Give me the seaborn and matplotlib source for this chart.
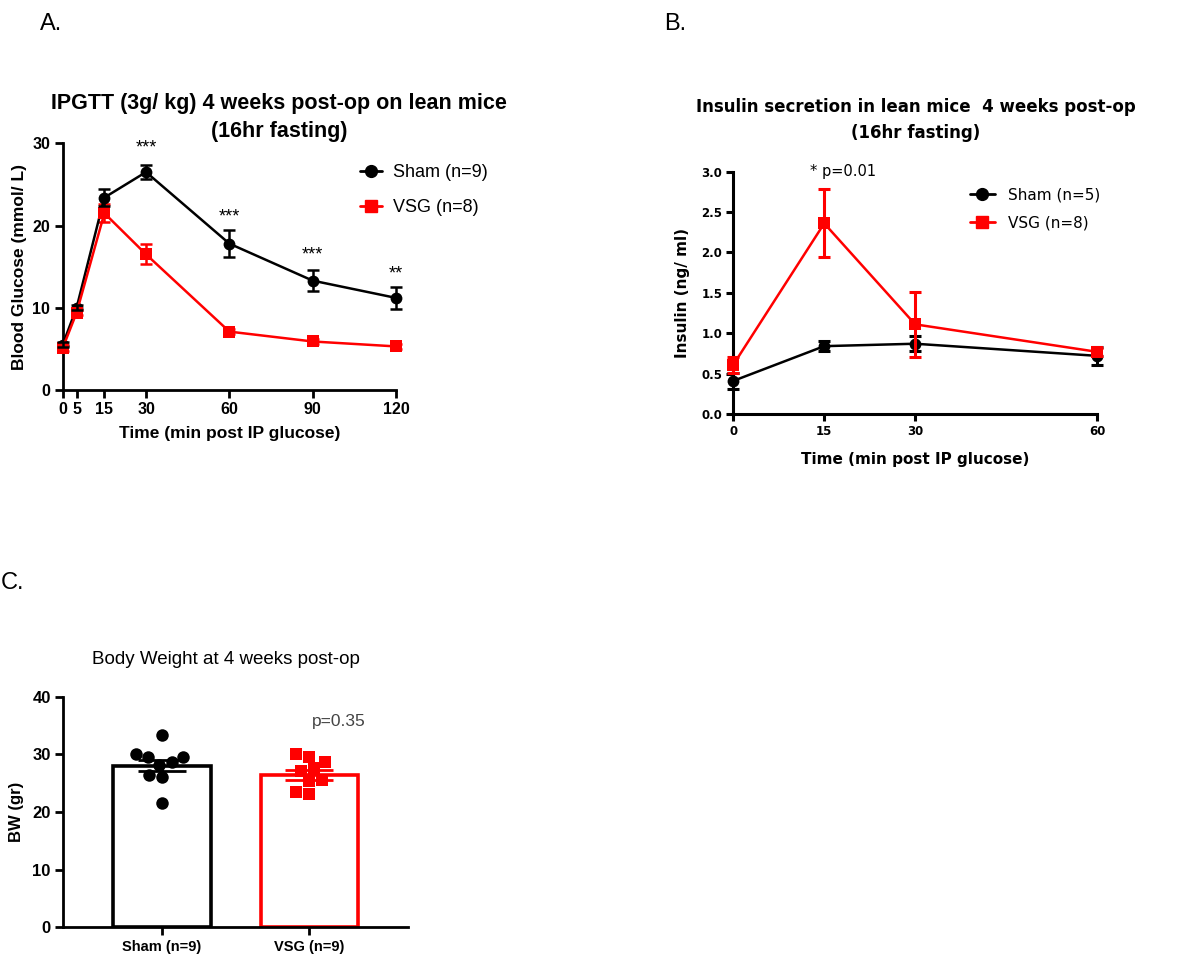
import numpy as np
import pandas as pd
import matplotlib
matplotlib.use("Agg")
import matplotlib.pyplot as plt
import seaborn as sns
from matplotlib.lines import Line2D

# ---------------- data ----------------
# Panel A: IPGTT blood glucose
gtt_time = [0, 5, 15, 30, 60, 90, 120]
gtt_sham_mean = [5.5, 10.0, 23.4, 26.5, 17.8, 13.3, 11.2]
gtt_sham_sem = [0.3, 0.3, 1.0, 0.9, 1.6, 1.3, 1.3]
gtt_vsg_mean = [5.1, 9.4, 21.5, 16.5, 7.1, 5.9, 5.3]
gtt_vsg_sem = [0.3, 0.3, 1.1, 1.2, 0.3, 0.3, 0.3]
gtt_stars = ["", "", "", "***", "***", "***", "**"]
gtt_star_y = [None, None, None, 29.4, 21.1, 16.4, 14.1]
gtt_xticks = [0, 5, 15, 30, 60, 90, 120]

# Panel B: insulin secretion
ins_time = [0, 15, 30, 60]
ins_sham_mean = [0.41, 0.84, 0.87, 0.72]
ins_sham_sem = [0.10, 0.06, 0.09, 0.11]
ins_vsg_mean = [0.61, 2.36, 1.11, 0.77]
ins_vsg_sem = [0.10, 0.42, 0.40, 0.05]

# Panel C: body weight
bw_groups = ["Sham (n=9)", "VSG (n=9)"]
bw_mean = [28.0, 26.4]
bw_sem = [0.95, 0.85]
bw_sham_pts = [33.4, 30.1, 29.6, 29.5, 28.7, 28.2, 26.4, 26.1, 21.6]
bw_vsg_pts = [29.6, 30.1, 28.7, 27.6, 27.1, 25.4, 25.5, 23.2, 23.4]

RED = "#ff0000"
BLK = "#000000"

sns.set_theme(style="ticks")
plt.rcParams['font.family'] = ['Liberation Sans', 'DejaVu Sans']
plt.rcParams.update({"text.color": "black", "axes.labelcolor": "black",
                     "xtick.color": "black", "ytick.color": "black"})

W, H = 1184, 955
fig = plt.figure(figsize=(W / 100, H / 100), dpi=100)


def ax_px(left, top, right, bottom):
    return fig.add_axes([left / W, 1 - bottom / H, (right - left) / W, (bottom - top) / H])


def style_axis(ax, lw=2.0, ticklen=6, labelsize=11, family=None):
    sns.despine(ax=ax)
    for s in ["left", "bottom"]:
        ax.spines[s].set_linewidth(lw)
        ax.spines[s].set_color("black")
    ax.tick_params(axis="both", direction="out", length=ticklen, width=lw,
                   colors="black", labelsize=labelsize, pad=3)
    for lab in ax.get_xticklabels() + ax.get_yticklabels():
        lab.set_fontweight("bold")
        lab.set_color("black")
        if family:
            lab.set_family(family)
    ax.set_facecolor("white")


# ---------------- Panel A ----------------
axA = ax_px(62.7, 143.3, 396, 390)
dfA = pd.DataFrame({
    "time": gtt_time * 2,
    "glucose": gtt_sham_mean + gtt_vsg_mean,
    "group": ["Sham (n=9)"] * len(gtt_time) + ["VSG (n=8)"] * len(gtt_time),
})
sns.lineplot(data=dfA, x="time", y="glucose", hue="group", style="group",
             markers={"Sham (n=9)": "o", "VSG (n=8)": "s"}, dashes=False,
             palette={"Sham (n=9)": BLK, "VSG (n=8)": RED},
             markersize=8.5, markeredgewidth=0, linewidth=1.8, ax=axA, legend=False,
             zorder=3, clip_on=False)
axA.errorbar(gtt_time, gtt_vsg_mean, yerr=gtt_vsg_sem, fmt="none", ecolor=RED,
             elinewidth=1.8, capsize=4, capthick=1.8, zorder=2, clip_on=False)
axA.errorbar(gtt_time, gtt_sham_mean, yerr=gtt_sham_sem, fmt="none", ecolor=BLK,
             elinewidth=1.8, capsize=4, capthick=1.8, zorder=4, clip_on=False)
for t, s, y in zip(gtt_time, gtt_stars, gtt_star_y):
    if s:
        axA.text(t, y, s, ha="center", va="center", fontsize=13, color="black")
axA.set_xlim(0, 120)
axA.set_ylim(0, 30)
axA.set_xticks(gtt_xticks)
axA.set_yticks([0, 10, 20, 30])
axA.set_xlabel("Time (min post IP glucose)", fontsize=12.5, fontweight="bold", labelpad=6)
axA.set_ylabel("Blood Glucose (mmol/ L)", fontsize=12.5, fontweight="bold", labelpad=4)
style_axis(axA, lw=2.0, ticklen=6, labelsize=11.5)
hA = [Line2D([], [], color=BLK, marker="o", markersize=8.5, lw=2),
      Line2D([], [], color=RED, marker="s", markersize=8.5, lw=2)]
fig.legend(hA, ["Sham (n=9)", "VSG (n=8)"], loc="upper left",
           bbox_to_anchor=(353 / W, 1 - 157 / H), frameon=False, fontsize=13,
           handlelength=1.2, handletextpad=0.6, labelspacing=1.0, borderaxespad=0)
fig.text(279 / W, 1 - 104 / H, "IPGTT (3g/ kg) 4 weeks post-op on lean mice",
         ha="center", va="center", fontsize=15.5, fontweight="bold")
fig.text(279 / W, 1 - 131 / H, "(16hr fasting)",
         ha="center", va="center", fontsize=15.5, fontweight="bold")

# ---------------- Panel B ----------------
FB = ['DejaVu Sans']
axB = ax_px(733.3, 171.7, 1097, 414)
dfB = pd.DataFrame({
    "time": ins_time * 2,
    "insulin": ins_sham_mean + ins_vsg_mean,
    "group": ["Sham (n=5)"] * len(ins_time) + ["VSG (n=8)"] * len(ins_time),
})
sns.lineplot(data=dfB, x="time", y="insulin", hue="group", style="group",
             markers={"Sham (n=5)": "o", "VSG (n=8)": "s"}, dashes=False,
             palette={"Sham (n=5)": BLK, "VSG (n=8)": RED},
             markersize=8.5, markeredgewidth=0, linewidth=1.8, ax=axB, legend=False,
             zorder=3, clip_on=False)
axB.errorbar(ins_time, ins_sham_mean, yerr=ins_sham_sem, fmt="none", ecolor=BLK,
             elinewidth=2.2, capsize=4, capthick=2.2, zorder=2, clip_on=False)
axB.errorbar(ins_time, ins_vsg_mean, yerr=ins_vsg_sem, fmt="none", ecolor=RED,
             elinewidth=2.2, capsize=4, capthick=2.2, zorder=4, clip_on=False)
axB.text(15 - 2.4, 3.0, "* p=0.01", ha="left", va="center", fontsize=10.5, family=FB)
axB.set_xlim(0, 60)
axB.set_ylim(0, 3.0)
axB.set_xticks(ins_time)
axB.set_yticks([0.0, 0.5, 1.0, 1.5, 2.0, 2.5, 3.0])
axB.yaxis.set_major_formatter(matplotlib.ticker.FormatStrFormatter("%.1f"))
axB.set_xlabel("Time (min post IP glucose)", fontsize=11, fontweight="bold",
               labelpad=10, family=FB)
axB.set_ylabel("Insulin (ng/ ml)", fontsize=11, fontweight="bold", labelpad=8, family=FB)
style_axis(axB, lw=2.2, ticklen=5, labelsize=8.5, family=FB)
hB = [Line2D([], [], color=BLK, marker="o", markersize=8.5, lw=2),
      Line2D([], [], color=RED, marker="s", markersize=8.5, lw=2)]
fig.legend(hB, ["Sham (n=5)", "VSG (n=8)"], loc="upper left",
           bbox_to_anchor=(964 / W, 1 - 181 / H), frameon=False,
           prop={"family": FB, "size": 11}, handlelength=1.6, handletextpad=0.9,
           labelspacing=0.85, borderaxespad=0)
fig.text(916 / W, 1 - 107 / H, "Insulin secretion in lean mice  4 weeks post-op",
         ha="center", va="center", fontsize=12, fontweight="bold", family=FB)
fig.text(916 / W, 1 - 133 / H, "(16hr fasting)",
         ha="center", va="center", fontsize=12, fontweight="bold", family=FB)

# ---------------- Panel C ----------------
axC = ax_px(63.3, 696.7, 408, 927.3)
dfC_bar = pd.DataFrame({"group": bw_groups, "bw": bw_mean})
sns.barplot(data=dfC_bar, x="group", y="bw", hue="group", order=bw_groups,
            palette={bw_groups[0]: "white", bw_groups[1]: "white"}, width=0.66,
            errorbar=None, legend=False, ax=axC, zorder=1)
for patch, col in zip(axC.patches, [BLK, RED]):
    patch.set_edgecolor(col)
    patch.set_linewidth(2.6)
dfC_pts = pd.DataFrame({
    "group": [bw_groups[0]] * len(bw_sham_pts) + [bw_groups[1]] * len(bw_vsg_pts),
    "bw": bw_sham_pts + bw_vsg_pts,
})
sns.swarmplot(data=dfC_pts[dfC_pts.group == bw_groups[0]], x="group", y="bw",
              order=bw_groups, color=BLK, marker="o", size=9, ax=axC, zorder=3)
sns.swarmplot(data=dfC_pts[dfC_pts.group == bw_groups[1]], x="group", y="bw",
              order=bw_groups, color=RED, marker="s", size=9, ax=axC, zorder=3)
for i, col in enumerate([BLK, RED]):
    axC.errorbar([i], [bw_mean[i]], yerr=[bw_sem[i]], fmt="none", ecolor=col,
                 elinewidth=2, capsize=17, capthick=2, zorder=4)
axC.text(1.2, 35.7, "p=0.35", ha="center", va="center", fontsize=12.5, color="#444444")
axC.set_xlim(-0.67, 1.67)
axC.set_ylim(0, 40)
axC.set_yticks([0, 10, 20, 30, 40])
axC.set_xlabel("")
axC.set_ylabel("BW (gr)", fontsize=12, fontweight="bold", labelpad=6)
style_axis(axC, lw=2.0, ticklen=6, labelsize=12)
for lab in axC.get_xticklabels():
    lab.set_fontsize(10.5)
fig.text(226 / W, 1 - 660 / H, "Body Weight at 4 weeks post-op",
         ha="center", va="center", fontsize=13.5)

# panel letters
fig.text(40 / W, 1 - 24 / H, "A.", ha="left", va="center", fontsize=17)
fig.text(664 / W, 1 - 24 / H, "B.", ha="left", va="center", fontsize=17)
fig.text(1 / W, 1 - 583 / H, "C.", ha="left", va="center", fontsize=17)

fig.savefig("out.png", dpi=100, facecolor="white")
